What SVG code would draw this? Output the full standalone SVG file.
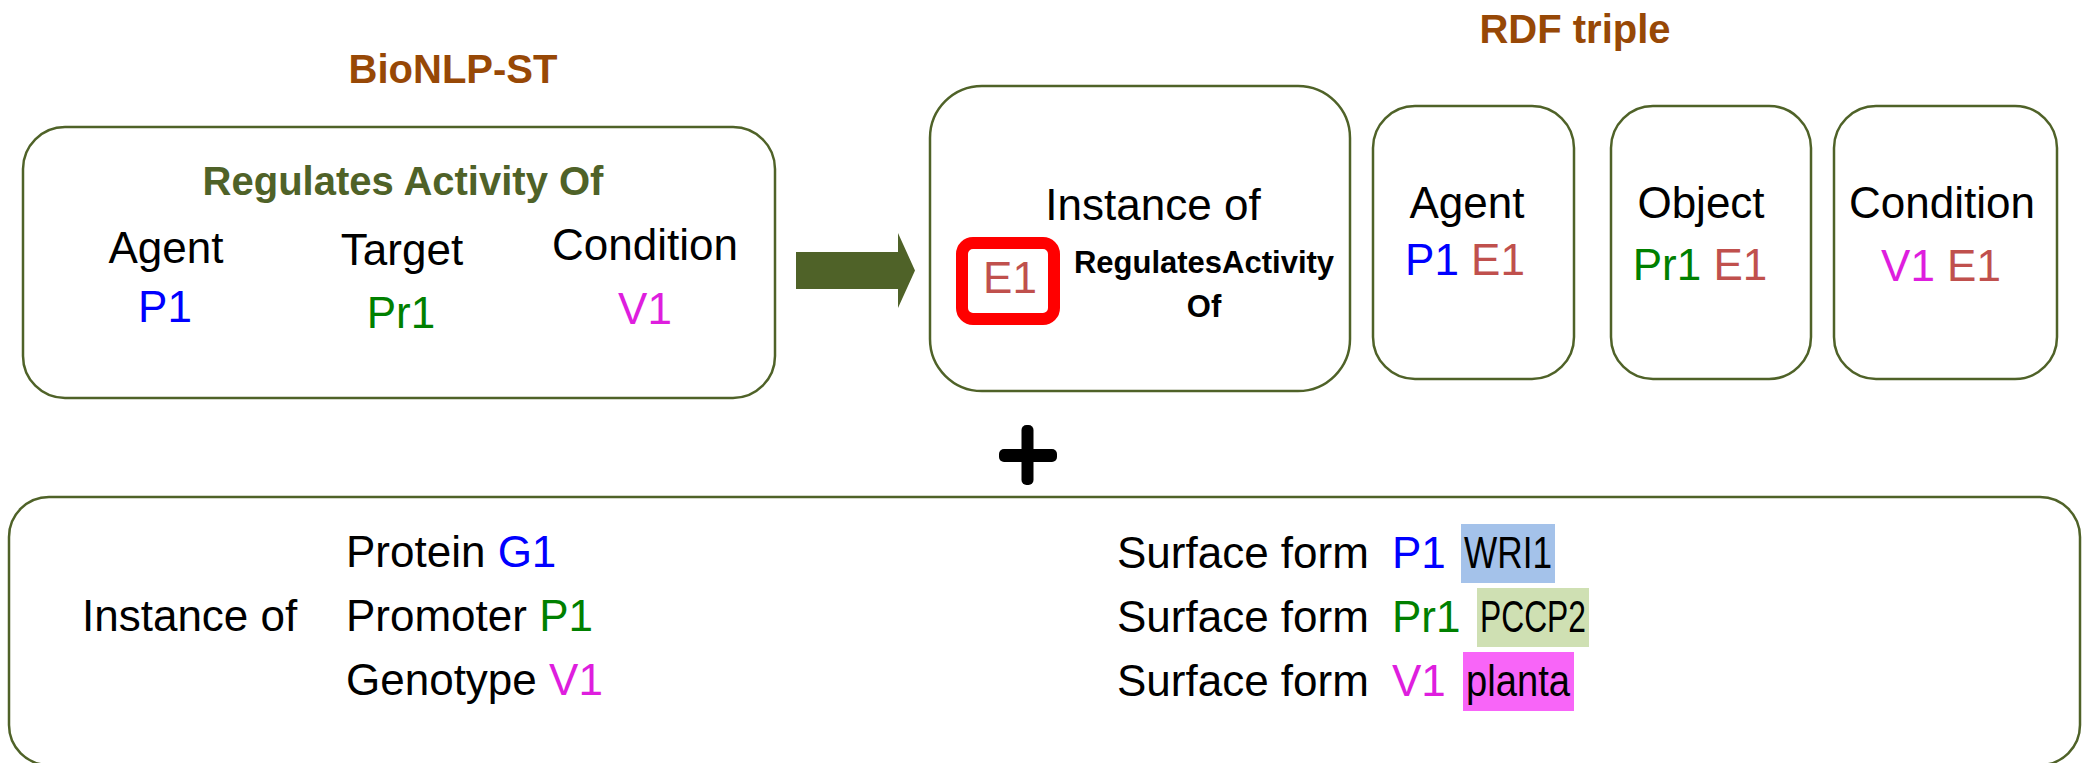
<svg xmlns="http://www.w3.org/2000/svg" width="2083" height="763" viewBox="0 0 2083 763">
  <style>
    text { font-family: "Liberation Sans", Arial, sans-serif; font-size: 44px; fill: #000; }
    .c { text-anchor: middle; }
    .title { font-weight: bold; font-size: 40px; fill: #974806; }
    .head { font-weight: bold; font-size: 40px; fill: #4F6228; }
    .bold30 { font-weight: bold; font-size: 31px; }
    .box { fill: #fff; stroke: #4F6228; stroke-width: 2.5; }
    .blue { fill: #0000FF; }
    .green { fill: #008000; }
    .mag { fill: #DE1EDE; }
    .ev { fill: #C0504D; }
  </style>

  <rect width="2083" height="763" fill="#fff"/>

  <!-- section titles -->
  <text class="title c" x="453" y="83">BioNLP-ST</text>
  <text class="title c" x="1575" y="43">RDF triple</text>

  <!-- BioNLP-ST event -->
  <g id="bionlp-event">
    <rect class="box" x="23" y="127" width="752" height="271" rx="42" ry="42"/>
    <text class="head c" x="403" y="195">Regulates Activity Of</text>
    <text class="c" x="166" y="263">Agent</text>
    <text class="c" x="402" y="265">Target</text>
    <text class="c" x="645" y="260">Condition</text>
    <text class="c blue" x="165" y="322">P1</text>
    <text class="c green" x="401" y="328">Pr1</text>
    <text class="c mag" x="645" y="324">V1</text>
  </g>

  <!-- RDF: event instance -->
  <g id="rdf-instance">
    <rect class="box" x="930" y="86" width="420" height="305" rx="52" ry="52"/>
    <text class="c" x="1153" y="220">Instance of</text>
    <rect x="962" y="243" width="92" height="76" rx="11" ry="11" fill="none" stroke="#FF0000" stroke-width="12"/>
    <text class="c ev" x="1010" y="293">E1</text>
    <text class="c bold30" x="1204" y="273">RegulatesActivity</text>
    <text class="c bold30" x="1204" y="317">Of</text>
  </g>

  <!-- RDF: agent -->
  <g id="rdf-agent">
    <rect class="box" x="1373" y="106" width="201" height="273" rx="42" ry="42"/>
    <text class="c" x="1467" y="218">Agent</text>
    <text class="c" x="1465" y="275"><tspan class="blue">P1</tspan> <tspan class="ev">E1</tspan></text>
  </g>

  <!-- RDF: object -->
  <g id="rdf-object">
    <rect class="box" x="1611" y="106" width="200" height="273" rx="42" ry="42"/>
    <text class="c" x="1701" y="218">Object</text>
    <text class="c" x="1700" y="280"><tspan class="green">Pr1</tspan> <tspan class="ev">E1</tspan></text>
  </g>

  <!-- RDF: condition -->
  <g id="rdf-condition">
    <rect class="box" x="1834" y="106" width="223" height="273" rx="42" ry="42"/>
    <text class="c" x="1942" y="218">Condition</text>
    <text class="c" x="1941" y="281"><tspan class="mag">V1</tspan> <tspan class="ev">E1</tspan></text>
  </g>

  <!-- plus sign -->
  <g id="plus">
    <rect x="1021.5" y="425" width="12" height="60" rx="5" ry="5" fill="#000"/>
    <rect x="999" y="449" width="58" height="13" rx="5" ry="5" fill="#000"/>
  </g>

  <!-- entity annotations -->
  <g id="entities">
    <rect class="box" x="9" y="497" width="2071" height="268" rx="40" ry="40"/>
    <text x="82" y="631">Instance of</text>
    <text x="346" y="567">Protein <tspan class="blue">G1</tspan></text>
    <text x="346" y="631">Promoter <tspan class="green">P1</tspan></text>
    <text x="346" y="695">Genotype <tspan class="mag">V1</tspan></text>

    <text x="1117" y="568">Surface form</text>
    <text x="1117" y="632">Surface form</text>
    <text x="1117" y="696">Surface form</text>
    <text class="blue" x="1392" y="568">P1</text>
    <text class="green" x="1392" y="632">Pr1</text>
    <text class="mag" x="1392" y="696">V1</text>

    <rect x="1461" y="524" width="94" height="59" fill="#A4C2EA"/>
    <text class="c" x="1508" y="568" font-size="40" textLength="88" lengthAdjust="spacingAndGlyphs">WRI1</text>
    <rect x="1477" y="588" width="112" height="59" fill="#CFE0B3"/>
    <text class="c" x="1533" y="632" font-size="40" textLength="106" lengthAdjust="spacingAndGlyphs">PCCP2</text>
    <rect x="1463" y="652" width="111" height="59" fill="#F865F8"/>
    <text class="c" x="1518" y="696" font-size="40" textLength="104" lengthAdjust="spacingAndGlyphs">planta</text>
  </g>

  <!-- connectors -->
  <g id="connectors">
    <polygon points="796,252 898,252 898,233 915,270.5 898,308 898,289 796,289" fill="#4F6228"/>
  </g>
</svg>
